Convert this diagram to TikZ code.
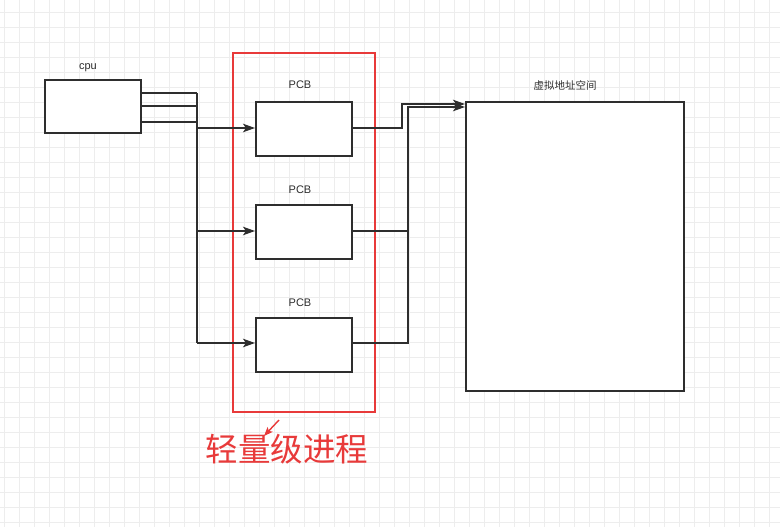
\documentclass[tikz,border=0pt]{standalone}
\usepackage{fontspec}
\setmainfont{Liberation Sans}
\newfontfamily\cjk{Noto Sans CJK SC}
\usetikzlibrary{arrows.meta}
\definecolor{ln}{HTML}{2E2E2E}
\definecolor{rd}{HTML}{E83A3A}
\definecolor{gr}{HTML}{EDEDED}
\begin{document}
\begin{tikzpicture}[x=1pt,y=-1pt,
  box/.style={draw=ln,line width=1.9pt,fill=white},
  wire/.style={draw=ln,line width=1.5pt},
  arr/.style={wire,-{Stealth[length=12pt,width=8.5pt,inset=3pt]}},
  lbl/.style={font=\fontsize{11}{12}\selectfont,text=ln,inner sep=0pt}]
\fill[white] (0,0) rectangle (780,527);
\useasboundingbox (0,0) rectangle (780,527);
\foreach \x in {4,19,...,780} \draw[gr,line width=0.8pt] (\x,0) -- (\x,527);
\foreach \y in {12,27,...,527} \draw[gr,line width=0.8pt] (0,\y) -- (780,\y);
% cpu
\node[box,minimum width=96pt,minimum height=53pt,inner sep=0pt,anchor=north west] (cpu) at (44,79) {};
\node[lbl] (cpul) at (88,68) {cpu};
% PCBs
\node[box,minimum width=96pt,minimum height=54pt,inner sep=0pt,anchor=north west] (p1) at (255,101) {};
\node[box,minimum width=96pt,minimum height=54pt,inner sep=0pt,anchor=north west] (p2) at (255,204) {};
\node[box,minimum width=96pt,minimum height=54pt,inner sep=0pt,anchor=north west] (p3) at (255,317) {};
\node[lbl] (l1) at (300,85) {PCB};
\node[lbl] (l2) at (300,190) {PCB};
\node[lbl] (l3) at (300,303) {PCB};
% virtual space
\node[box,minimum width=218pt,minimum height=289pt,inner sep=0pt,anchor=north west] (vs) at (465,101) {};
\node[lbl,font=\cjk\fontsize{10.5}{12}\selectfont] (vsl) at (565,85) {虚拟地址空间};
% red frame
\node[draw=rd,line width=2.2pt,minimum width=142pt,minimum height=359pt,inner sep=0pt,anchor=north west] (rf) at (232,52) {};
% coordinates
\coordinate (j) at (197,93);
\coordinate (jb) at (197,343);
% cpu to bus
\draw[wire] (cpu.east |- 0,93) -- (197,93);
\draw[wire] (cpu.east |- 0,106) -- (197,106);
\draw[wire] (cpu.east |- 0,122) -- (197,122);
\draw[wire] (j) -- (jb);
\draw[arr] (197,128) -- (p1.west |- 0,128);
\draw[arr] (197,231) -- (p2.west |- 0,231);
\draw[arr] (jb) -- (p3.west |- 0,343);
% PCB to virtual space
\draw[arr] (p1.east |- 0,128) -- (402,128) -- (402,104) -- (vs.west |- 0,104);
\draw[arr] (p3.east |- 0,343) -- (408,343) -- (408,107) -- (vs.west |- 0,107);
\draw[wire] (p2.east |- 0,231) -- (408,231);
% label
\node[font=\cjk\fontsize{32.5}{36}\selectfont,text=rd,inner sep=0pt] (tl) at (287,449) {轻量级进程};
\coordinate (ta) at (279,420);
\draw[rd,line width=1.4pt,-{Stealth[length=9pt,width=7pt,inset=2pt]}] (ta) -- (264,436);
\end{tikzpicture}
\end{document}
